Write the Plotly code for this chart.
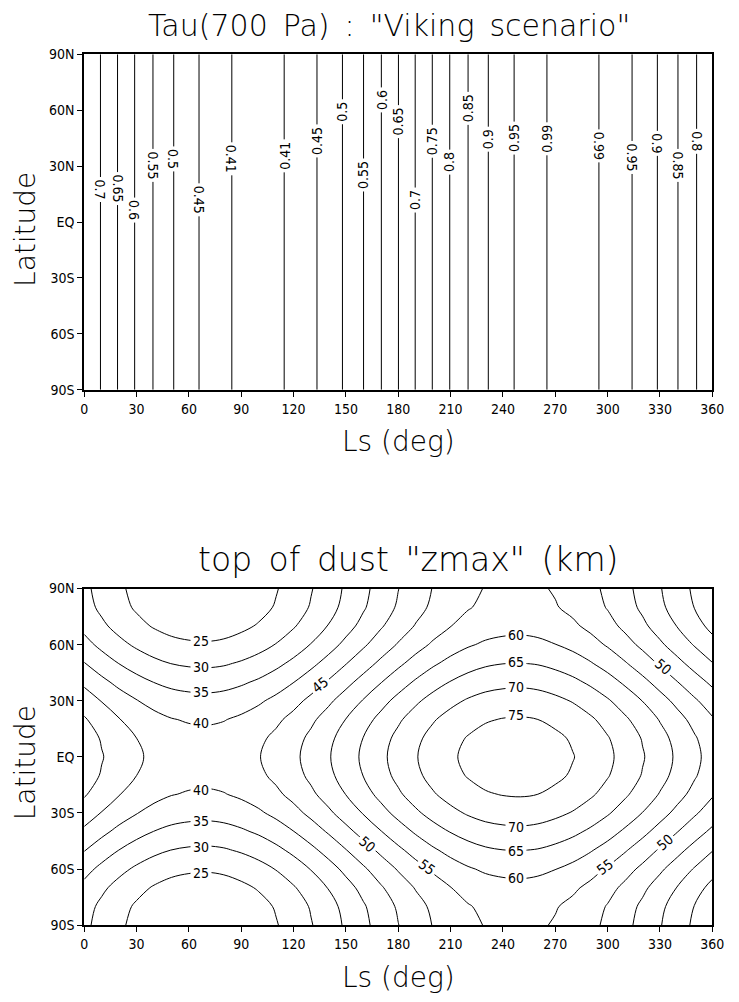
import plotly.graph_objects as go

# ---------------- top panel: Tau(700 Pa), "Viking scenario" ----------------
# contour levels of tau and the Ls (deg) where each contour line lies
tau_levels = [0.7, 0.65, 0.6, 0.55, 0.5, 0.45, 0.41, 0.41, 0.45, 0.5, 0.55, 0.6, 0.65,
              0.7, 0.75, 0.8, 0.85, 0.9, 0.95, 0.99, 0.99, 0.95, 0.9, 0.85, 0.8]
tau_ls = [9.3, 19.1, 28.9, 39.4, 51.3, 65.8, 84.6, 114.6, 133.4, 148.0, 160.1, 170.3, 180.1,
          189.7, 199.5, 209.5, 220.0, 231.6, 246.4, 265.2, 295.0, 314.0, 328.5, 340.3, 351.0]
# latitude where each contour label is written
tau_label_lat = [17.2, 18.2, 6.6, 30.4, 34.0, 11.9, 34.0, 35.6, 43.5, 59.4, 25.0, 65.7, 54.1,
                 11.9, 43.5, 32.0, 61.0, 44.6, 45.1, 44.6, 40.9, 34.6, 42.0, 30.4, 43.5]

# ---------------- bottom panel: top of dust "zmax" (km) ----------------
ls_grid = list(range(0, 361, 10))
# zmax along the equator at each Ls of ls_grid
zmax_equator = [53.1, 50.3, 47.8, 45.7, 44.0, 42.8, 42.2, 42.0, 42.4, 43.4, 44.8, 46.7, 49.0,
                51.7, 54.6, 57.7, 60.8, 63.9, 66.9, 69.7, 72.2, 74.3, 76.0, 77.2, 77.8, 78.0,
                77.6, 76.6, 75.2, 73.3, 71.0, 68.3, 65.4, 62.3, 59.2, 56.1, 53.1]
lat_grid = list(range(-90, 91, 10))
# decrease of zmax relative to the equator at each latitude of lat_grid
zmax_drop = [22.0, 21.3, 19.4, 16.5, 12.9, 9.1, 5.5, 2.6, 0.7, 0.0,
             0.7, 2.6, 5.5, 9.1, 12.9, 16.5, 19.4, 21.3, 22.0]

zmax_table = [[e - d for e in zmax_equator] for d in zmax_drop]

# contour labels of the bottom panel: (text, Ls, lat, angle)
zmax_labels = [
    ("25", 67, 62.0, 0), ("30", 67, 48.0, 0), ("35", 67, 34.5, 0), ("40", 67, 18.0, 0),
    ("45", 135, 38.5, -39), ("60", 247.5, 65.0, 0), ("65", 247.5, 50.5, 0),
    ("70", 247.5, 37.5, 0), ("75", 247.5, 22.2, 0), ("50", 332, 48.0, 41),
    ("40", 67, -18.0, 0), ("35", 67, -34.5, 0), ("30", 67, -48.0, 0), ("25", 67, -62.0, 0),
    ("50", 162, -46.8, 41), ("55", 196.5, -58.9, 37), ("70", 247.5, -37.5, 0),
    ("65", 247.5, -50.5, 0), ("60", 247.5, -65.0, 0), ("55", 298.4, -58.9, -37),
    ("50", 333, -45.6, -41),
]

lat_ticks = [-90, -60, -30, 0, 30, 60, 90]
lat_ticktext = ["90S", "60S", "30S", "EQ", "30N", "60N", "90N"]
ls_ticks = list(range(0, 361, 30))

FONT = "DejaVu Sans Condensed, Liberation Sans Narrow, DejaVu Sans, sans-serif"
TFONT = "DejaVu Sans, sans-serif"
W, H = 739, 1002
SP = "\u2002"  # wide space, as in the original lettering

fig = go.Figure()

# vertical tau contour lines
xs, ys = [], []
for ls in tau_ls:
    xs += [ls, ls, None]
    ys += [-90, 90, None]
fig.add_trace(go.Scatter(x=xs, y=ys, mode="lines", line=dict(color="black", width=1),
                         showlegend=False, hoverinfo="skip", xaxis="x", yaxis="y"))

# zmax contours
fig.add_trace(go.Contour(
    x=ls_grid, y=lat_grid, z=zmax_table,
    contours=dict(start=25, end=75, size=5, coloring="none", showlabels=False),
    line=dict(color="black", width=1, smoothing=1.0),
    showscale=False, hoverinfo="skip", xaxis="x2", yaxis="y2"))

annotations = []
# tau labels: rotation depends on whether tau decreases (+90) or increases (-90) with Ls
for i, (lv, ls, la) in enumerate(zip(tau_levels, tau_ls, tau_label_lat)):
    if i + 1 < len(tau_levels):
        decreasing = tau_levels[i + 1] < lv
    else:
        decreasing = True
    annotations.append(dict(
        x=ls, y=la, xref="x", yref="y", text=f"{lv:g}", showarrow=False,
        textangle=90 if decreasing else -90, bgcolor="white", borderpad=2,
        font=dict(family=FONT, size=14, color="black")))
annotations[6]["textangle"] = 90

for t, ls, la, ang in zmax_labels:
    annotations.append(dict(
        x=ls, y=la, xref="x2", yref="y2", text=t, showarrow=False, textangle=ang,
        bgcolor="white", borderpad=2, font=dict(family=FONT, size=14, color="black")))

# titles
axt = dict(family=TFONT, size=28, color="black", weight=200)
annotations += [
    dict(text=f'Tau(700{SP}Pa){SP}:{SP}"Viking{SP}scenario"', x=0.485, xref="x domain",
         y=1 - 18 / H, yref="paper", showarrow=False, yanchor="middle",
         font=dict(family=TFONT, size=30, color="black", weight=200)),
    dict(text=f'top{SP}of{SP}dust{SP}"zmax"{SP}(km)', x=0.515, xref="x2 domain",
         y=1 - 560 / H, yref="paper", showarrow=False, yanchor="middle",
         font=dict(family=TFONT, size=33, color="black", weight=200)),
    dict(text="Ls (deg)", x=0.5, xref="x domain", y=1 - 441 / H, yref="paper",
         showarrow=False, font=axt, yanchor="middle"),
    dict(text="Ls (deg)", x=0.5, xref="x2 domain", y=1 - 985 / H, yref="paper",
         showarrow=False, font=axt, yanchor="middle"),
    dict(text="Latitude", x=22 / W, xref="paper", y=1 - 225 / H, yref="paper",
         showarrow=False, font=axt, textangle=-90, xanchor="center", yanchor="middle"),
    dict(text="Latitude", x=22 / W, xref="paper", y=1 - 767 / H, yref="paper",
         showarrow=False, font=axt, textangle=-90, xanchor="center", yanchor="middle"),
]

tick_font = dict(family=FONT, size=14, color="black")
xcommon = dict(range=[0, 360], tickvals=ls_ticks, ticks="outside", ticklen=5, tickwidth=1,
               tickcolor="black", showgrid=False, zeroline=False, showline=True, mirror=True,
               linewidth=2, linecolor="black", tickfont=tick_font,
               domain=[82 / W, 724 / W])
ycommon = dict(range=[-90, 90], tickvals=lat_ticks, ticktext=lat_ticktext, ticks="outside",
               ticklen=5, tickwidth=1, tickcolor="black", showgrid=False, zeroline=False,
               showline=True, mirror=True, linewidth=2, linecolor="black",
               tickfont=tick_font)

fig.update_layout(
    width=W, height=H, margin=dict(l=0, r=0, t=0, b=0),
    paper_bgcolor="white", plot_bgcolor="white", showlegend=False,
    xaxis=dict(xcommon, anchor="y"),
    yaxis=dict(ycommon, anchor="x", domain=[1 - 388 / H, 1 - 47 / H]),
    xaxis2=dict(xcommon, anchor="y2"),
    yaxis2=dict(ycommon, anchor="x2", domain=[1 - 932 / H, 1 - 590 / H]),
    annotations=annotations,
)

fig.write_html("out.html")
